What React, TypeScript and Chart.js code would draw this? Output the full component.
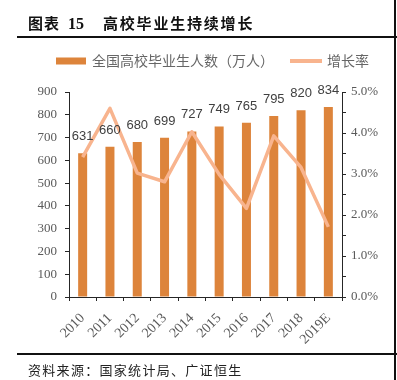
import React, { useEffect, useRef } from 'react';
import { Chart, registerables } from 'chart.js';

Chart.register(...registerables);

const years = ['2010', '2011', '2012', '2013', '2014', '2015', '2016', '2017', '2018', '2019E'];
const graduates = [631, 660, 680, 699, 727, 749, 765, 795, 820, 834];
const growthRate = [3.41, 4.6, 3.02, 2.81, 4.03, 2.99, 2.16, 3.93, 3.16, 1.71];
const leftAxis = { max: 900, step: 100 };
const rightAxis = { max: 5, step: 0.5 };
const barLabel = '全国高校毕业生人数（万人）';
const lineLabel = '增长率';
const titlePrefix = '图表';
const titleNumber = '15';
const titleMain = '高校毕业生持续增长';
const sourceText = '资料来源：国家统计局、广证恒生';

const BAR_COLOR = '#DD843B';
const LINE_COLOR = '#F8B48E';
const TICK_COLOR = '#595959';
const AXIS_COLOR = '#262626';
const SERIF = '"Liberation Serif", "Times New Roman", serif';
const CJK = '"Noto Sans CJK SC", sans-serif';

const decorPlugin = {
  id: 'decor',
  afterDraw(chart: any) {
    const ctx = chart.ctx as CanvasRenderingContext2D;
    // data labels
    const barIndex = chart.data.datasets.findIndex((d: any) => d.type === 'bar');
    const meta = chart.getDatasetMeta(barIndex);
    ctx.save();
    ctx.font = '13px "Liberation Sans", Arial, sans-serif';
    ctx.fillStyle = '#404040';
    ctx.textAlign = 'center';
    ctx.textBaseline = 'alphabetic';
    meta.data.forEach((el: any, i: number) => {
      ctx.fillText(String(chart.data.datasets[barIndex].data[i]), el.x, el.y - 13);
    });
    ctx.restore();

    // legend
    ctx.save();
    ctx.font = '14px ' + CJK;
    ctx.textBaseline = 'middle';
    ctx.textAlign = 'left';
    const cy = 61;
    let x = 56;
    ctx.fillStyle = BAR_COLOR;
    ctx.fillRect(x, cy - 3.5, 30, 7);
    x += 36;
    ctx.fillStyle = '#666';
    ctx.fillText(barLabel, x, cy);
    x += ctx.measureText(barLabel).width + 16;
    ctx.strokeStyle = LINE_COLOR;
    ctx.lineWidth = 4;
    ctx.beginPath();
    ctx.moveTo(x, cy);
    ctx.lineTo(x + 32, cy);
    ctx.stroke();
    x += 37;
    ctx.fillText(lineLabel, x, cy);
    ctx.restore();
  },
};

export default function App() {
  const ref = useRef<HTMLCanvasElement | null>(null);

  useEffect(() => {
    if (!ref.current) return;
    const chart = new Chart(ref.current, {
      type: 'bar',
      data: {
        labels: years,
        datasets: [
          {
            type: 'line',
            label: lineLabel,
            data: growthRate,
            yAxisID: 'y1',
            borderColor: LINE_COLOR,
            backgroundColor: LINE_COLOR,
            borderWidth: 3.5,
            pointRadius: 0,
            tension: 0,
            borderJoinStyle: 'round',
            order: 0,
          } as any,
          {
            type: 'bar',
            label: barLabel,
            data: graduates,
            yAxisID: 'y',
            backgroundColor: BAR_COLOR,
            borderWidth: 0,
            barPercentage: 0.33,
            categoryPercentage: 1,
            order: 1,
          } as any,
        ],
      },
      options: {
        responsive: false,
        animation: false,
        devicePixelRatio: 1,
        layout: { padding: { top: 92, left: 0, right: 0, bottom: 0 } },
        plugins: { legend: { display: false }, tooltip: { enabled: false } },
        scales: {
          x: {
            offset: true,
            grid: {
              display: true,
              offset: true,
              drawOnChartArea: false,
              drawTicks: true,
              tickLength: 4,
              color: AXIS_COLOR,
            },
            border: { display: true, color: AXIS_COLOR, width: 1 },
            ticks: {
              color: TICK_COLOR,
              font: { family: SERIF, size: 14 },
              minRotation: 45,
              maxRotation: 45,
              autoSkip: false,
              padding: 9,
            },
            afterFit: (s: any) => {
              s.height = 83;
            },
          },
          y: {
            position: 'left',
            min: 0,
            max: leftAxis.max,
            grid: {
              drawOnChartArea: false,
              drawTicks: true,
              tickLength: 4,
              color: AXIS_COLOR,
            },
            border: { display: true, color: AXIS_COLOR, width: 1 },
            ticks: {
              stepSize: leftAxis.step,
              color: TICK_COLOR,
              font: { family: SERIF, size: 13 },
              padding: 8,
            },
            afterFit: (s: any) => {
              s.width = 69;
            },
          },
          y1: {
            position: 'right',
            min: 0,
            max: rightAxis.max,
            grid: {
              drawOnChartArea: false,
              drawTicks: true,
              tickLength: 4,
              color: AXIS_COLOR,
            },
            border: { display: true, color: AXIS_COLOR, width: 1 },
            ticks: {
              stepSize: rightAxis.step,
              color: TICK_COLOR,
              font: { family: SERIF, size: 13 },
              padding: 5,
              callback: (v: any) => (Math.abs(v - Math.round(v)) < 1e-6 ? Number(v).toFixed(1) + '%' : ''),
            },
            afterFit: (s: any) => {
              s.width = 55;
            },
          },
        },
      },
      plugins: [decorPlugin],
    });
    return () => chart.destroy();
  }, []);

  return (
    <div style={{ position: 'fixed', left: 0, top: 0, width: 397, height: 380, background: '#fff', overflow: 'hidden' }}>
      <canvas ref={ref} width={397} height={380} style={{ position: 'absolute', left: 0, top: 0, width: 397, height: 380 }} />
      <div
        style={{
          position: 'absolute',
          left: 28,
          top: 13,
          height: 20,
          lineHeight: '20px',
          fontFamily: CJK,
          fontWeight: 700,
          fontSize: 15,
          color: '#111',
          whiteSpace: 'nowrap',
        }}
      >
        <span style={{ letterSpacing: 1 }}>{titlePrefix}</span>
        <span style={{ marginLeft: 8, fontFamily: SERIF, fontSize: 16 }}>{titleNumber}</span>
        <span style={{ marginLeft: 19, letterSpacing: 1.8 }}>{titleMain}</span>
      </div>
      <div style={{ position: 'absolute', left: 17, top: 36, width: 380, height: 2, background: '#111' }} />
      <div style={{ position: 'absolute', left: 394, top: 0, width: 2, height: 380, background: '#111' }} />
      <div style={{ position: 'absolute', left: 17, top: 353, width: 380, height: 2, background: '#111' }} />
      <div
        style={{
          position: 'absolute',
          left: 28,
          top: 361,
          height: 18,
          lineHeight: '18px',
          fontFamily: CJK,
          fontSize: 13,
          letterSpacing: 1.3,
          color: '#222',
          whiteSpace: 'nowrap',
        }}
      >
        {sourceText}
      </div>
    </div>
  );
}
